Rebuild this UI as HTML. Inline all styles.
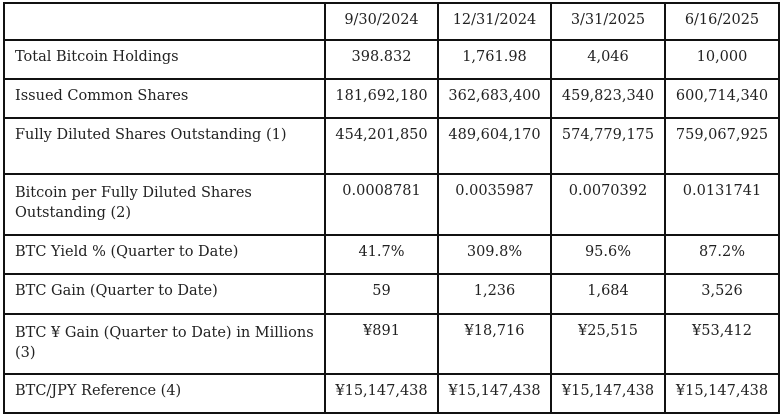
<!DOCTYPE html>
<html><head><meta charset="utf-8"><style>
body{margin:0;background:#fff;width:783px;height:416px;overflow:hidden;font-family:"DejaVu Serif","Liberation Serif",serif;color:#222;}
table{position:absolute;left:3px;top:2px;border-collapse:collapse;}
td{border:2px solid #111;font-size:14.5px;padding:0;vertical-align:top;white-space:nowrap;}
td.l{padding:8px 0 0 10px;text-align:left;}
td.v{text-align:center;padding-top:8px;}
</style></head><body>
<table>
<colgroup><col style="width:321px"><col style="width:113px"><col style="width:113px"><col style="width:114px"><col style="width:114px"></colgroup>
<tr style="height:37px"><td></td><td class="v">9/30/2024</td><td class="v">12/31/2024</td><td class="v">3/31/2025</td><td class="v">6/16/2025</td></tr>
<tr style="height:39px"><td class="l">Total Bitcoin Holdings</td><td class="v">398.832</td><td class="v">1,761.98</td><td class="v">4,046</td><td class="v">10,000</td></tr>
<tr style="height:39px"><td class="l">Issued Common Shares</td><td class="v">181,692,180</td><td class="v">362,683,400</td><td class="v">459,823,340</td><td class="v">600,714,340</td></tr>
<tr style="height:56px"><td class="l">Fully Diluted Shares Outstanding (1)</td><td class="v">454,201,850</td><td class="v">489,604,170</td><td class="v">574,779,175</td><td class="v">759,067,925</td></tr>
<tr style="height:61px"><td class="l" style="line-height:20px">Bitcoin per Fully Diluted Shares<br>Outstanding (2)</td><td class="v">0.0008781</td><td class="v">0.0035987</td><td class="v">0.0070392</td><td class="v">0.0131741</td></tr>
<tr style="height:39px"><td class="l">BTC Yield % (Quarter to Date)</td><td class="v">41.7%</td><td class="v">309.8%</td><td class="v">95.6%</td><td class="v">87.2%</td></tr>
<tr style="height:40px"><td class="l">BTC Gain (Quarter to Date)</td><td class="v">59</td><td class="v">1,236</td><td class="v">1,684</td><td class="v">3,526</td></tr>
<tr style="height:60px"><td class="l" style="line-height:20px">BTC ¥ Gain (Quarter to Date) in Millions<br>(3)</td><td class="v">¥891</td><td class="v">¥18,716</td><td class="v">¥25,515</td><td class="v">¥53,412</td></tr>
<tr style="height:39px"><td class="l">BTC/JPY Reference (4)</td><td class="v">¥15,147,438</td><td class="v">¥15,147,438</td><td class="v">¥15,147,438</td><td class="v">¥15,147,438</td></tr>
</table>
</body></html>
